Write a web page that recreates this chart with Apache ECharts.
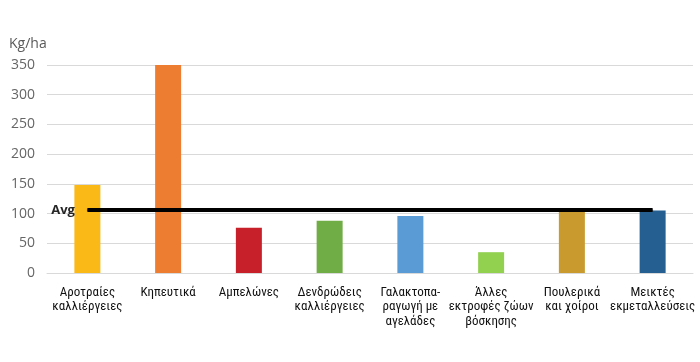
<!DOCTYPE html>
<html><head><meta charset="utf-8">
<script src="https://cdn.jsdelivr.net/npm/echarts@6/dist/echarts.min.js"></script>
<style>html,body{margin:0;padding:0;background:#fff}#c{width:700px;height:362px}</style>
</head><body><div id="c"></div>
<script>
const categories = ['Αροτραίες\nκαλλιέργειες','Κηπευτικά','Αμπελώνες','Δενδρώδεις\nκαλλιέργειες','Γαλακτοπα-\nραγωγή με\nαγελάδες','Άλλες\nεκτροφές ζώων\nβόσκησης','Πουλερικά\nκαι χοίροι','Μεικτές\nεκμεταλλεύσεις'];
const values = [148, 350, 76, 88, 96, 35, 105, 105];
const avgValues = [106, 106, 106, 106, 106, 106, 106, 106];
const colors = ['#FBB917','#ED7D31','#C8202B','#70AD47','#5B9BD5','#92D050','#C99A2E','#255E91'];
const yTicks = [0, 50, 100, 150, 200, 250, 300, 350];

const chart = echarts.init(document.getElementById('c'));
chart.setOption({
  animation: false,
  grid: {left: 47, right: 7, top: 65, bottom: 89},
  title: {text: 'Kg/ha', left: 4, top: 32, textStyle: {fontSize: 14, fontWeight: 'normal', color: '#595959', fontFamily: 'Open Sans'}},
  xAxis: {
    type: 'category', data: categories,
    axisTick: {show: false},
    axisLine: {lineStyle: {color: '#D9D9D9', width: 1}},
    axisLabel: {interval: 0, color: '#111', fontSize: 13, lineHeight: 14.5, margin: 12, fontFamily: 'Liberation Sans Narrow, Roboto Condensed, Noto Sans, sans-serif'}
  },
  yAxis: {
    type: 'value', min: 0, max: 350, interval: 50,
    axisLine: {show: false}, axisTick: {show: false},
    splitLine: {lineStyle: {color: '#D9D9D9', width: 1}},
    axisLabel: {color: '#666', fontSize: 14, margin: 12, fontFamily: 'Open Sans',
      formatter: v => yTicks.includes(v) ? String(v) : ''}
  },
  series: [
    {type: 'bar', data: values.map((v, i) => ({value: v, itemStyle: {color: colors[i]}})), barWidth: 26},
    {type: 'line', symbol: 'circle', symbolSize: 1, showSymbol: true, itemStyle: {color: '#000'},
     lineStyle: {color: '#000', width: 4}, z: 5,
     data: avgValues.map((v, i) => i === 0
       ? {value: v, label: {show: true, formatter: 'Avg', position: 'left', distance: 12, color: '#262626', fontWeight: 'bold', fontSize: 13, fontFamily: 'Open Sans'}}
       : v)}
  ]
});
</script></body></html>
